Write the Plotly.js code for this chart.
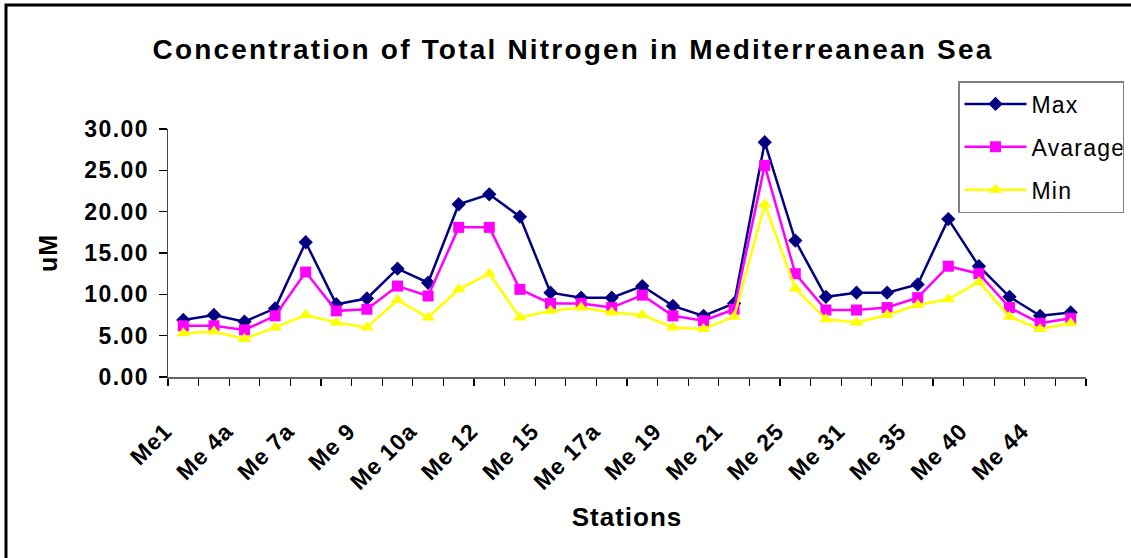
<!DOCTYPE html>
<html>
<head>
<meta charset="utf-8">
<script src="https://cdn.plot.ly/plotly-3.0.1.min.js"></script>
<style>
  html, body { margin: 0; padding: 0; background: #ffffff; }
  #chart { width: 1131px; height: 558px; }
  #chart .gtitle { letter-spacing: 2.2px; }
  #chart .ytick text { letter-spacing: 1.4px; }
  #chart .xtick text { letter-spacing: 1px; }
  #chart .xtitle { letter-spacing: 1px; }
  #chart .ytitle { letter-spacing: 1px; }
  #chart .legendtext { letter-spacing: 1.2px; }
</style>
</head>
<body>
<div id="chart"></div>
<script>
// ---- data ----
// 30 stations along the axis; only every other station is labelled in the original
const stationIndex = [0,1,2,3,4,5,6,7,8,9,10,11,12,13,14,15,16,17,18,19,20,21,22,23,24,25,26,27,28,29];
const tickPositions = [0,2,4,6,8,10,12,14,16,18,20,22,24,26,28];
const tickLabels = ["Me1","Me 4a","Me 7a","Me 9","Me 10a","Me 12","Me 15","Me 17a","Me 19","Me 21","Me 25","Me 31","Me 35","Me 40","Me 44"];

const maxValues = [6.9,7.5,6.7,8.3,16.3,8.8,9.5,13.1,11.4,20.9,22.1,19.4,10.2,9.6,9.6,11.0,8.6,7.4,8.9,28.4,16.5,9.7,10.2,10.2,11.2,19.1,13.4,9.7,7.4,7.8];
const avgValues = [6.2,6.2,5.7,7.4,12.7,8.0,8.2,11.0,9.8,18.1,18.1,10.6,8.9,8.9,8.4,9.9,7.4,6.8,8.2,25.6,12.5,8.1,8.1,8.4,9.6,13.4,12.5,8.4,6.5,7.1];
const minValues = [5.3,5.5,4.6,6.0,7.5,6.6,6.0,9.3,7.2,10.6,12.5,7.2,8.0,8.4,7.8,7.5,6.0,5.8,7.3,20.9,10.7,7.0,6.6,7.5,8.7,9.4,11.5,7.3,5.8,6.5];

const seriesNames = ["Max","Avarage","Min"];
const yTickValues = [0,5,10,15,20,25,30];

// ---- layout constants ----
const W = 1131, H = 558;
const M = {l: 168, r: 45, t: 129, b: 181, autoexpand: false};
const PW = W - M.l - M.r, PH = H - M.t - M.b;
const px2x = p => (p - M.l) / PW;
const py2y = p => (H - M.b - p) / PH;
const FONT = "Liberation Sans, Arial, sans-serif";

const boundaryTicks = stationIndex.map(i => i - 0.5).concat([stationIndex.length - 0.5]);

const traces = [
  {x: stationIndex, y: maxValues, name: seriesNames[0], legendgroup: "a", type: "scatter", mode: "lines+markers",
   line: {color: "#000080", width: 2.5}, marker: {symbol: "diamond", size: 11, color: "#000080"}},
  {x: stationIndex, y: avgValues, name: seriesNames[1], legendgroup: "b", type: "scatter", mode: "lines+markers",
   line: {color: "#FF00FF", width: 2.5}, marker: {symbol: "square", size: 11, color: "#FF00FF"}},
  {x: stationIndex, y: minValues, name: seriesNames[2], legendgroup: "c", type: "scatter", mode: "lines+markers",
   line: {color: "#FFFF00", width: 2.5}, marker: {symbol: "triangle-up", size: 12, color: "#FFFF00"}}
];

const layout = {
  width: W, height: H,
  margin: M,
  paper_bgcolor: "#ffffff",
  plot_bgcolor: "#ffffff",
  showlegend: true,
  font: {family: FONT, color: "#000000"},
  title: {
    text: "<b>Concentration of Total Nitrogen in Mediterreanean Sea</b>",
    font: {family: FONT, size: 28, color: "#000000"},
    x: 573 / W, xanchor: "center", xref: "container",
    y: 1 - 49 / H, yanchor: "middle", yref: "container"
  },
  xaxis: {
    type: "linear",
    range: [-0.5, stationIndex.length - 0.5],
    showgrid: false, zeroline: false,
    showline: true, linecolor: "#666666", linewidth: 1.5,
    tickmode: "array", tickvals: tickPositions, ticktext: tickLabels,
    ticks: "", tickangle: -45,
    tickfont: {family: FONT, size: 23, color: "#000000", weight: "bold"},
    ticklabelstandoff: 30,
    ticklabelshift: -18,
    minor: {tickmode: "array", tickvals: boundaryTicks, ticks: "outside", ticklen: 7, tickwidth: 1.2, tickcolor: "#000000", showgrid: false},
    title: {text: "<b>Stations</b>", font: {family: FONT, size: 26, color: "#000000"}, standoff: 18},
    automargin: false, fixedrange: true
  },
  yaxis: {
    range: [0, 30],
    showgrid: false, zeroline: false,
    showline: true, linecolor: "#444444", linewidth: 1.5,
    tickmode: "array", tickvals: yTickValues,
    ticktext: yTickValues.map(v => v.toFixed(2)),
    ticks: "outside", ticklen: 8, tickwidth: 1.2, tickcolor: "#000000",
    tickfont: {family: FONT, size: 23, color: "#000000", weight: "bold"},
    ticklabelstandoff: 5,
    title: {text: "<b>uM</b>", font: {family: FONT, size: 25, color: "#000000"}, standoff: 26},
    automargin: false, fixedrange: true
  },
  legend: {
    xref: "container", yref: "container",
    x: 958 / W, y: 1 - 81 / H, xanchor: "left", yanchor: "top",
    bgcolor: "#ffffff", bordercolor: "#808080", borderwidth: 1.5,
    font: {family: FONT, size: 23, color: "#000000"},
    tracegroupgap: 10, traceorder: "grouped", itemwidth: 62
  },
  shapes: [
    {type: "rect", xref: "paper", yref: "paper",
     x0: px2x(6), x1: px2x(1150), y0: py2y(580), y1: py2y(5),
     line: {color: "#000000", width: 3}, fillcolor: "rgba(0,0,0,0)", layer: "below"}
  ]
};

Plotly.newPlot("chart", traces, layout, {displayModeBar: false, staticPlot: true});
</script>
</body>
</html>
